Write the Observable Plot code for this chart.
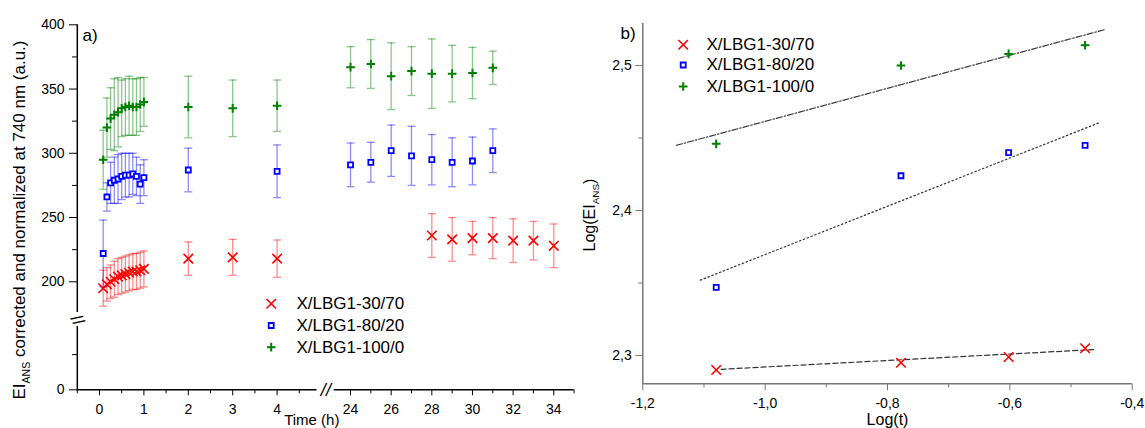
<!DOCTYPE html>
<html><head><meta charset="utf-8">
<script src="https://cdn.jsdelivr.net/npm/d3@7"></script>
<script src="https://cdn.jsdelivr.net/npm/@observablehq/plot@0.6"></script>
<style>
html,body{margin:0;padding:0;background:#fff;}
#wrap{position:relative;width:1145px;height:428px;overflow:hidden;font-family:"Liberation Sans",Arial,sans-serif;}
#a{position:absolute;left:0;top:0;}
#b{position:absolute;left:580px;top:0;}
svg{overflow:visible;}
</style></head><body><div id="wrap"><div id="a"></div><div id="b"></div></div>
<script>
// ---------- data ----------
const seriesNames = ["X/LBG1-30/70", "X/LBG1-80/20", "X/LBG1-100/0"];
const seriesColors = ["#ff0000", "#0000ff", "#008000"];
const seriesSymbols = ["times", "square", "plus"];

// panel a: time (h), EI_ANS value, error
const time_30_70 = [0.083,0.167,0.25,0.333,0.417,0.5,0.583,0.667,0.75,0.833,0.917,1,2,3,4,28,29,30,31,32,33,34];
const ei_30_70   = [195,198,200,202,204,205,206,207,208,208,209,210,218,219,218,236,233,234,234,232,232,228];
const err_30_70  = [14,13,13,14,14,14,14,14,14,14,14,14,13,14,14.5,17,17,13,16,17,15,17];

const time_80_20 = [0.083,0.167,0.25,0.333,0.417,0.5,0.583,0.667,0.75,0.833,0.917,1,2,4,24,25,26,27,28,29,30,31];
const ei_80_20   = [222,266,277,279,280,282,283,283,284,282,276,281,287,286,291,293,302,298,295,293,294,302];
const err_80_20  = [26,11,16,18,19,18,17,17,16,15,15,14,17,20.5,17,15.5,20,23,19.6,19,18.6,17];

const time_100_0 = [0.083,0.167,0.25,0.333,0.417,0.5,0.583,0.667,0.75,0.833,0.917,1,2,3,4,24,25,26,27,28,29,30,31];
const ei_100_0   = [295,320,327,330,332,335,336,337,336,336,338,340,336,335,337,367,369.5,360,364,362,362,362.5,366.5];
const err_100_0  = [23,23,24,28,27,22,22,23,22,22,21,19,24,22,20,16,19,26,19,27,22,20,13];

// panel a ticks
const yTicksA = [0,200,250,300,350,400];
const yMinorA = [50,225,275,325,375];
const xTicksA = [0,1,2,3,4,24,26,28,30,32,34];
const xMinorA = [-0.5,0.5,1.5,2.5,3.5,4.5,25,27,29,31,33,35];
const xBreak = [4.9, 23.2];   // gap of the time axis
const yBreak = [90, 176];     // gap of the value axis

// panel b: log(t) vs log(EI)
const logT = [-1.08, -0.778, -0.602, -0.477];
const logEI_30_70 = [2.290, 2.295, 2.299, 2.305];
const logEI_80_20 = [2.347, 2.424, 2.440, 2.445];
const logEI_100_0 = [2.446, 2.500, 2.508, 2.514];
// fitted lines (end points)
const fitX_30_70 = [-1.072, -0.463], fitY_30_70 = [2.2905, 2.3041];
const fitX_80_20 = [-1.106, -0.453], fitY_80_20 = [2.352, 2.4607];
const fitX_100_0 = [-1.145, -0.443], fitY_100_0 = [2.445, 2.525];
const fitDash = ["5,3", "1.5,2.6", "6,2,1.5,2"];

const xTicksB = [-1.2,-1.0,-0.8,-0.6,-0.4];
const xMinorB = [-1.1,-0.9,-0.7,-0.5];
const yTicksB = [2.3,2.4,2.5];
const yMinorB = [2.35,2.45];

// ---------- build rows ----------
const seriesA = [
  {t: time_30_70, v: ei_30_70, e: err_30_70},
  {t: time_80_20, v: ei_80_20, e: err_80_20},
  {t: time_100_0, v: ei_100_0, e: err_100_0}
].map((s, i) => s.t.map((t, j) => ({series: seriesNames[i], t, v: s.v[j], e: s.e[j]})));

const seriesB = [logEI_30_70, logEI_80_20, logEI_100_0]
  .map((arr, i) => arr.map((y, j) => ({series: seriesNames[i], x: logT[j], y})));
const fitsB = [[fitX_30_70, fitY_30_70], [fitX_80_20, fitY_80_20], [fitX_100_0, fitY_100_0]]
  .map(([xs, ys], i) => xs.map((x, j) => ({series: seriesNames[i], x, y: ys[j]})));

// ---------- helpers ----------
const FONT = "Liberation Sans, Arial, sans-serif";
const capSymbol = {draw(ctx) { ctx.moveTo(-4, 0); ctx.lineTo(4, 0); }};
const symR = {times: 4.4, square: 2.82, plus: 2.9};
const symW = {times: 1.6, square: 1.8, plus: 2};
const commaFmt = d => d.toFixed(1).replace(".", ",");

function markerMarks(rows, i, xk, yk) {
  const sym = seriesSymbols[i];
  return Plot.dot(rows, {x: xk, y: yk, symbol: sym, r: symR[sym],
    stroke: seriesColors[i], strokeWidth: symW[sym], fill: sym === "square" ? "white" : "none"});
}
function legendMarks(i, symDx, textDx, dy) {
  const sym = seriesSymbols[i];
  return [
    Plot.dot([seriesNames[i]], {frameAnchor: "top-left", dx: symDx, dy, symbol: sym, r: symR[sym],
      stroke: seriesColors[i], strokeWidth: symW[sym], fill: sym === "square" ? "white" : "none"}),
    Plot.text([seriesNames[i]], {frameAnchor: "top-left", dx: textDx, dy, text: d => d,
      textAnchor: "start", lineAnchor: "middle", fontSize: 17, fill: "#000"})
  ];
}
function rotLabel(svg, x, y, parts, size) {
  const t = d3.select(svg).append("text")
    .attr("transform", `translate(${x},${y}) rotate(-90)`)
    .attr("text-anchor", "middle").attr("font-size", size)
    .attr("font-family", FONT).attr("fill", "#000");
  parts.forEach(p => {
    const s = t.append("tspan").text(p.text);
    if (p.sub) s.attr("font-size", size * 0.62).attr("dy", size * 0.28);
    if (p.after) s.attr("dy", -size * 0.28);
  });
}

// ---------- panel a ----------
const H = 428;
const marksA = [];
// axis lines with breaks
marksA.push(Plot.ruleY([0], {x1: -0.5, x2: xBreak[0], stroke: "#000", strokeWidth: 1.5}));
marksA.push(Plot.ruleY([0], {x1: xBreak[1], x2: 35, stroke: "#000", strokeWidth: 1.5}));
marksA.push(Plot.ruleX([-0.5], {y1: 0, y2: yBreak[0], stroke: "#000", strokeWidth: 1.5}));
marksA.push(Plot.ruleX([-0.5], {y1: yBreak[1], y2: 400, stroke: "#000", strokeWidth: 1.5}));
marksA.push(Plot.text(["//"], {x: (xBreak[0] + xBreak[1]) / 2, y: 0, text: d => d, fontSize: 18, fontStyle: "italic", lineAnchor: "middle", fill: "#000"}));
marksA.push(Plot.text(["//"], {x: -0.5, y: (yBreak[0] + yBreak[1]) / 2, text: d => d, fontSize: 17, rotate: 62, lineAnchor: "middle", fill: "#000"}));
// axes
marksA.push(Plot.axisY({ticks: yTicksA, tickSize: 8, tickPadding: 5, fontSize: 14, label: null, stroke: "#000", fill: "#000"}));
marksA.push(Plot.axisY({ticks: yMinorA, tickSize: 5, fill: "none", label: null, stroke: "#000"}));
marksA.push(Plot.axisX({ticks: xTicksA, tickSize: 6, tickPadding: 8, fontSize: 14, label: null, stroke: "#000", fill: "#000"}));
marksA.push(Plot.axisX({ticks: xMinorA, tickSize: 4, fill: "none", label: null, stroke: "#000"}));
// error bars and markers
seriesA.forEach((rows, i) => {
  marksA.push(Plot.ruleX(rows, {x: "t", y1: d => d.v - d.e, y2: d => d.v + d.e, stroke: seriesColors[i], strokeOpacity: 0.45, strokeWidth: 1.3}));
  marksA.push(Plot.dot(rows, {x: "t", y: d => d.v + d.e, symbol: capSymbol, r: 3, stroke: seriesColors[i], strokeOpacity: 0.45, strokeWidth: 1.3, fill: "none"}));
  marksA.push(Plot.dot(rows, {x: "t", y: d => d.v - d.e, symbol: capSymbol, r: 3, stroke: seriesColors[i], strokeOpacity: 0.45, strokeWidth: 1.3, fill: "none"}));
});
seriesA.forEach((rows, i) => marksA.push(markerMarks(rows, i, "t", "v")));
// legend
[279, 300.7, 322.4].forEach((dy, i) => marksA.push(...legendMarks(i, 193.7, 219, dy)));
// labels
marksA.push(Plot.text(["a)"], {frameAnchor: "top-left", dx: 5, dy: 4, text: d => d, textAnchor: "start", lineAnchor: "top", fontSize: 17, fill: "#000"}));
marksA.push(Plot.text(["Time (h)"], {frameAnchor: "bottom", dx: -14, dy: 25, text: d => d, lineAnchor: "top", fontSize: 15, fill: "#000"}));

const plotA = Plot.plot({
  width: 580, height: H,
  marginLeft: 77, marginRight: 6.4, marginTop: 24.3, marginBottom: 38.7,
  style: {fontFamily: FONT, fontSize: "14px", background: "transparent", color: "#000", overflow: "visible"},
  x: {type: "linear", domain: [-0.5, 5, 23, 35], range: [76.8, 321, 329.7, 573.6], axis: null},
  y: {type: "linear", domain: [0, 90, 175, 400], range: [389.3, 326, 313.4, 24.3], axis: null},
  marks: marksA
});
document.getElementById("a").appendChild(plotA);
rotLabel(plotA, 25, 220, [{text: "EI"}, {text: "ANS", sub: true}, {text: " corrected and normalized at 740 nm (a.u.)", after: true}], 17);

// ---------- panel b ----------
const marksB = [];
marksB.push(Plot.ruleX([-1.2], {stroke: "#777", strokeWidth: 1.5}));
marksB.push(Plot.ruleY([2.2805], {stroke: "#777", strokeWidth: 1.5}));
marksB.push(Plot.axisY({ticks: yTicksB, tickSize: 7, tickPadding: 4, fontSize: 14, tickFormat: commaFmt, label: null, stroke: "#777", fill: "#000"}));
marksB.push(Plot.axisY({ticks: yMinorB, tickSize: 4, fill: "none", label: null, stroke: "#777"}));
marksB.push(Plot.axisX({ticks: xTicksB, tickSize: 7, tickPadding: 7, fontSize: 14, tickFormat: commaFmt, label: null, stroke: "#777", fill: "#000"}));
marksB.push(Plot.axisX({ticks: xMinorB, tickSize: 4, fill: "none", label: null, stroke: "#777"}));
fitsB.forEach((rows, i) => marksB.push(Plot.line(rows, {x: "x", y: "y", stroke: "#333", strokeWidth: 1.2, strokeDasharray: fitDash[i]})));
seriesB.forEach((rows, i) => marksB.push(markerMarks(rows, i, "x", "y")));
[21.3, 41.5, 63].forEach((dy, i) => marksB.push(...legendMarks(i, 40.4, 63.7, dy)));
marksB.push(Plot.text(["b)"], {frameAnchor: "top-left", dx: -22.3, dy: 3.7, text: d => d, textAnchor: "start", lineAnchor: "top", fontSize: 17, fill: "#000"}));
marksB.push(Plot.text(["Log(t)"], {frameAnchor: "bottom", dx: 0, dy: 30, text: d => d, lineAnchor: "top", fontSize: 16, fill: "#000"}));

const plotB = Plot.plot({
  width: 565, height: H,
  marginLeft: 62.3, marginRight: 13.3, marginTop: 23, marginBottom: 44.7,
  style: {fontFamily: FONT, fontSize: "14px", background: "transparent", color: "#000", overflow: "visible"},
  x: {type: "linear", domain: [-1.2, -0.4], axis: null},
  y: {type: "linear", domain: [2.2805, 2.529], axis: null},
  marks: marksB
});
document.getElementById("b").appendChild(plotB);
rotLabel(plotB, 15, 215, [{text: "Log(EI"}, {text: "ANS", sub: true}, {text: ")", after: true}], 16);
</script></body></html>
